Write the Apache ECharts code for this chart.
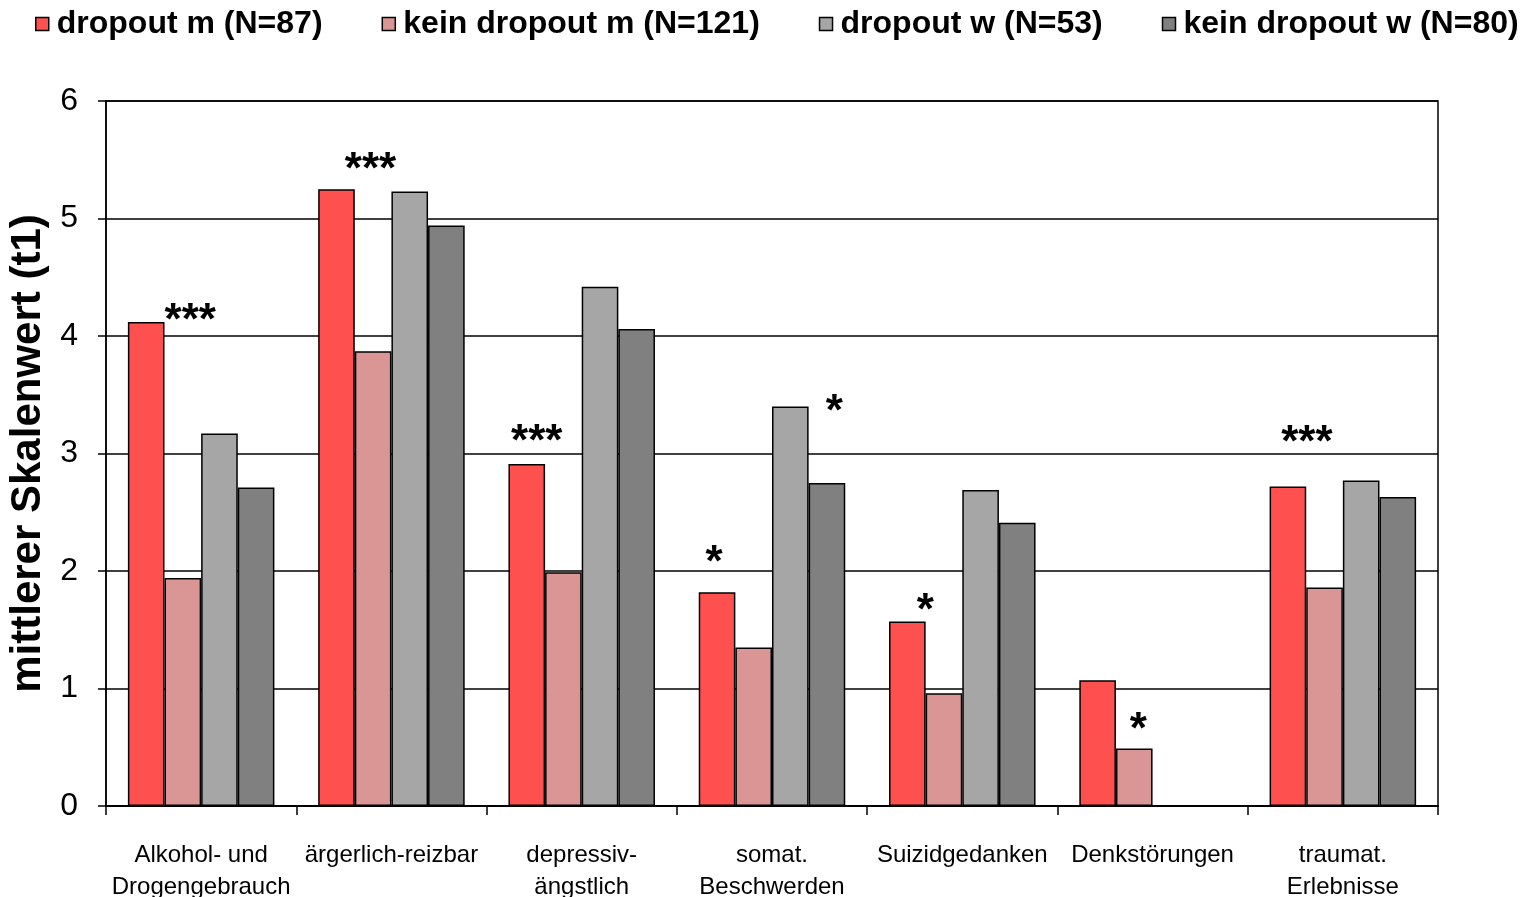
<!DOCTYPE html>
<html>
<head>
<meta charset="utf-8">
<script src="https://cdn.jsdelivr.net/npm/echarts@6/dist/echarts.min.js"></script>
<style>
  html, body { margin: 0; padding: 0; background: #fff; }
  #main { width: 1527px; height: 897px; }
</style>
</head>
<body>
<div id="main"></div>
<script>
// Kategorien (Skalen)
var categories = [
  "Alkohol- und\nDrogengebrauch",
  "ärgerlich-reizbar",
  "depressiv-\nängstlich",
  "somat.\nBeschwerden",
  "Suizidgedanken",
  "Denkstörungen",
  "traumat.\nErlebnisse"
];
var seriesNames = ["dropout m (N=87)", "kein dropout m (N=121)", "dropout w (N=53)", "kein dropout w (N=80)"];
var dropoutM = [4.12, 5.25, 2.91, 1.82, 1.57, 1.07, 2.72];
var keinDropoutM = [1.94, 3.87, 1.99, 1.35, 0.96, 0.49, 1.86];
var dropoutW = [3.17, 5.23, 4.42, 3.40, 2.69, null, 2.77];
var keinDropoutW = [2.71, 4.94, 4.06, 2.75, 2.41, null, 2.63];
var yTicks = [0, 1, 2, 3, 4, 5, 6];
// Signifikanzsterne: [Serie, Kategorie, Text]
var sigMarks = [
  [0, 0, "***"],
  [0, 1, "***"],
  [0, 2, "***"],
  [0, 3, "*"],
  [2, 3, "*"],
  [0, 4, "*"],
  [1, 5, "*"],
  [0, 6, "***"]
];

// Position der Sterne relativ zum Balken (nur Darstellung)
var sigOffsets = {
  "0-0": [44, 0], "0-1": [34, -18], "0-2": [10, -21], "0-3": [-3, -28],
  "2-3": [44, 6], "0-4": [18, -10], "1-5": [4, -18], "0-6": [19, -43]
};

var colors = ["#FF5050", "#DA9694", "#A6A6A6", "#808080"];
var allData = [dropoutM, keinDropoutM, dropoutW, keinDropoutW];

function buildData(si) {
  return allData[si].map(function (v, ci) {
    var item = { value: v };
    sigMarks.forEach(function (m) {
      if (m[0] === si && m[1] === ci) {
        item.label = {
          show: true,
          position: ["50%", 0],
          align: "center",
          verticalAlign: "middle",
          formatter: m[2],
          offset: sigOffsets[si + "-" + ci],
          fontSize: 44,
          fontWeight: "bold",
          fontFamily: "Liberation Sans",
          color: "#000"
        };
      }
    });
    return item;
  });
}

var chart = echarts.init(document.getElementById("main"));
var option = {
  animation: false,
  legend: {
    data: seriesNames,
    left: 35,
    top: 8,
    width: 1490,
    padding: 0,
    itemWidth: 13,
    itemHeight: 13,
    itemGap: 59,
    icon: "rect",
    itemStyle: { borderColor: "#000", borderWidth: 1.5 },
    textStyle: {
      fontFamily: "Liberation Sans",
      fontWeight: "bold",
      fontSize: 32,
      color: "#000",
      padding: [0, 0, 0, 3]
    }
  },
  grid: {
    left: 106,
    right: 89,
    top: 101,
    bottom: 91,
    outerBoundsMode: "none",
    show: true,
    borderColor: "#000",
    borderWidth: 1.5
  },
  xAxis: {
    type: "category",
    data: categories,
    axisLine: { lineStyle: { color: "#000", width: 2 } },
    axisTick: { show: true, length: 9, lineStyle: { color: "#000", width: 1.5 } },
    axisLabel: {
      color: "#000",
      fontFamily: "Liberation Sans",
      fontSize: 24,
      lineHeight: 32,
      margin: 33,
      interval: 0
    }
  },
  yAxis: {
    type: "value",
    min: 0,
    max: 6,
    interval: 1,
    name: "mittlerer Skalenwert (t1)",
    nameLocation: "middle",
    nameGap: 57,
    nameTextStyle: {
      fontFamily: "Liberation Sans",
      fontWeight: "bold",
      fontSize: 42,
      color: "#000"
    },
    axisLine: { show: true, lineStyle: { color: "#000", width: 1.5 } },
    axisTick: { show: true, length: 8, lineStyle: { color: "#000", width: 1.5 } },
    axisLabel: {
      color: "#000",
      fontFamily: "Liberation Sans",
      fontSize: 32,
      margin: 28,
      formatter: function (v) { return yTicks.indexOf(v) >= 0 ? String(v) : ""; }
    },
    splitLine: { lineStyle: { color: "#000", width: 1.5 } }
  },
  series: seriesNames.map(function (name, si) {
    return {
      name: name,
      type: "bar",
      data: buildData(si),
      barGap: "0%",
      barCategoryGap: "23%",
      itemStyle: { color: colors[si], borderColor: "#000", borderWidth: 1.5 }
    };
  })
};
option && chart.setOption(option);
</script>
</body>
</html>
